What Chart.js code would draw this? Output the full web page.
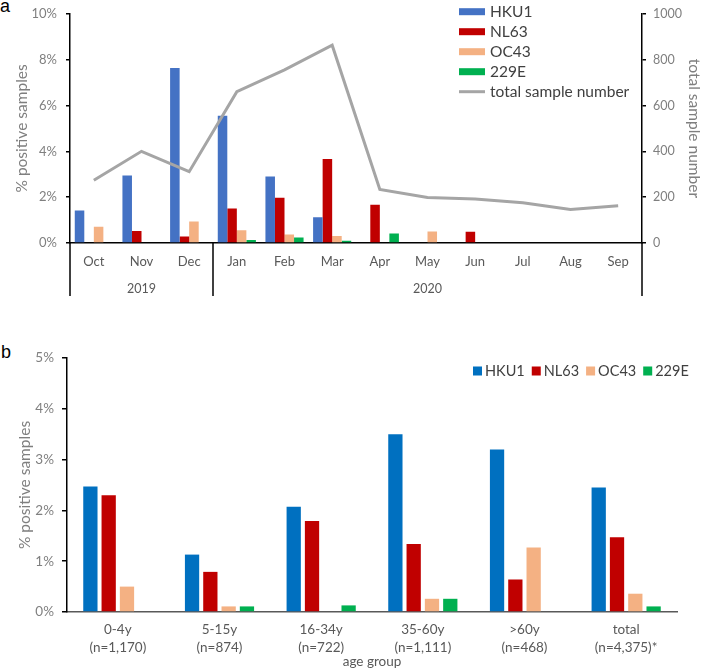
<!DOCTYPE html>
<html>
<head>
<meta charset="utf-8">
<script src="https://cdn.jsdelivr.net/npm/chart.js@4.4.1/dist/chart.umd.min.js"></script>
<style>
  html, body { margin: 0; padding: 0; background: #fff; }
  body { width: 702px; height: 668px; position: relative; overflow: hidden; }
  .panel { position: absolute; left: 0; width: 702px; }
  #panelA { top: -3px; height: 300px; }
  #panelB { top: 310px; height: 358px; }
  .tag { position: absolute; font-family: 'Liberation Sans', Arial, sans-serif; font-size: 18px; color: #000; line-height: 20px; }
</style>
</head>
<body>
<div class="tag" style="left:0px; top:-4px;">a</div>
<div class="tag" style="left:1px; top:342px;">b</div>
<div class="panel" id="panelA"><canvas id="monthChart" width="702" height="300"></canvas></div>
<div class="panel" id="panelB"><canvas id="ageChart" width="702" height="358"></canvas></div>
<script>
// ---- panel a : monthly data ----
const months = ["Oct", "Nov", "Dec", "Jan", "Feb", "Mar", "Apr", "May", "Jun", "Jul", "Aug", "Sep"];
const yearLabels = ["2019", "2020"];
const yearMonthCounts = [3, 9];

const hku1Monthly = [1.42, 2.95, 7.63, 5.55, 2.90, 1.12, 0, 0, 0, 0, 0, 0];
const nl63Monthly = [0, 0.52, 0.28, 1.50, 1.97, 3.67, 1.67, 0, 0.49, 0, 0, 0];
const oc43Monthly = [0.71, 0, 0.94, 0.56, 0.37, 0.31, 0, 0.50, 0, 0, 0, 0];
const e229Monthly = [0, 0, 0, 0.13, 0.24, 0.10, 0.41, 0, 0, 0, 0, 0];
const totalSamples = [274, 400, 311, 660, 755, 863, 234, 199, 192, 176, 146, 163];

// ---- panel b : age groups ----
const ageGroupNames = ["0-4y", "5-15y", "16-34y", "35-60y", ">60y", "total"];
const ageGroupCounts = ["(n=1,170)", "(n=874)", "(n=722)", "(n=1,111)", "(n=468)", "(n=4,375)*"];

const hku1Age = [2.47, 1.13, 2.07, 3.50, 3.20, 2.45];
const nl63Age = [2.30, 0.79, 1.79, 1.34, 0.64, 1.47];
const oc43Age = [0.50, 0.11, 0, 0.26, 1.27, 0.36];
const e229Age = [0, 0.11, 0.13, 0.26, 0, 0.11];

Chart.defaults.font.family = "Lato, 'Open Sans', sans-serif";
Chart.defaults.animation = false;
Chart.defaults.events = [];
Chart.defaults.plugins.legend.display = false;
Chart.defaults.plugins.tooltip.enabled = false;

// legend drawn inside the plot, from the datasets
const insideLegend = {
    id: "insideLegend",
    afterDraw(chart, args, opts) {
        const ctx = chart.ctx;
        ctx.save();
        ctx.font = opts.fontSize + "px " + Chart.defaults.font.family;
        ctx.textBaseline = "middle";
        let x = opts.x, y = opts.y;
        chart.data.datasets.forEach(ds => {
            if (ds.type === "line") {
                ctx.strokeStyle = ds.borderColor;
                ctx.lineWidth = ds.borderWidth;
                ctx.beginPath();
                ctx.moveTo(x, y);
                ctx.lineTo(x + opts.boxW, y);
                ctx.stroke();
            } else {
                ctx.fillStyle = ds.backgroundColor;
                ctx.fillRect(x, y - opts.boxH / 2, opts.boxW, opts.boxH);
            }
            ctx.fillStyle = opts.color;
            ctx.fillText(ds.label, x + opts.boxW + opts.textGap, y);
            if (opts.vertical) {
                y += opts.rowGap;
            } else {
                x += opts.boxW + opts.textGap + ctx.measureText(ds.label).width + opts.itemGap;
            }
        });
        ctx.restore();
    }
};

// second level of the month axis: years and separators
const yearGroups = {
    id: "yearGroups",
    afterDraw(chart) {
        const xs = chart.scales.x;
        const area = chart.chartArea;
        const ctx = chart.ctx;
        const half = (xs.getPixelForValue(1) - xs.getPixelForValue(0)) / 2;
        const edges = [xs.getPixelForValue(0) - half];
        ctx.save();
        ctx.fillStyle = "#595959";
        ctx.font = "12.5px " + Chart.defaults.font.family;
        ctx.textAlign = "center";
        ctx.textBaseline = "middle";
        let start = 0;
        yearLabels.forEach((lab, i) => {
            const end = start + yearMonthCounts[i] - 1;
            const l = xs.getPixelForValue(start) - half;
            const r = xs.getPixelForValue(end) + half;
            ctx.fillText(lab, (l + r) / 2, area.bottom + 46);
            edges.push(r);
            start = end + 1;
        });
        ctx.strokeStyle = "#000";
        ctx.lineWidth = 1.5;
        edges.forEach(x => {
            ctx.beginPath();
            ctx.moveTo(x, area.bottom);
            ctx.lineTo(x, area.bottom + 53);
            ctx.stroke();
        });
        ctx.restore();
    }
};

function drawCharts() {
    new Chart(document.getElementById("monthChart"), {
        type: "bar",
        data: {
            labels: months,
            datasets: [
                { label: "HKU1", data: hku1Monthly, backgroundColor: "#4472C4", order: 1 },
                { label: "NL63", data: nl63Monthly, backgroundColor: "#C00000", order: 1 },
                { label: "OC43", data: oc43Monthly, backgroundColor: "#F4B183", order: 1 },
                { label: "229E", data: e229Monthly, backgroundColor: "#00B050", order: 1 },
                {
                    type: "line", label: "total sample number", data: totalSamples, yAxisID: "y1",
                    borderColor: "#A5A5A5", borderWidth: 3, pointRadius: 0, tension: 0, order: 0
                }
            ]
        },
        options: {
            responsive: false,
            devicePixelRatio: 1,
            layout: { padding: { top: 8, left: 0, right: 0, bottom: 0 } },
            datasets: { bar: { categoryPercentage: 0.8, barPercentage: 1.0 } },
            scales: {
                x: {
                    grid: { display: false, drawTicks: false },
                    border: { color: "#000", width: 1.5 },
                    ticks: { color: "#595959", font: { size: 13 }, padding: 11 },
                    afterFit: s => { s.height = 54; }
                },
                y: {
                    position: "left", min: 0, max: 10,
                    ticks: { stepSize: 2, callback: v => v + "%", color: "#7f7f7f", font: { size: 13 }, padding: 9 },
                    grid: { drawOnChartArea: false, tickLength: 4, color: "#000", lineWidth: 1.5 },
                    border: { color: "#000", width: 1.5 },
                    title: { display: true, text: "% positive samples", color: "#7f7f7f", font: { size: 15.5 }, padding: { top: 13, bottom: 0 } },
                    afterFit: s => { s.width = 70; }
                },
                y1: {
                    position: "right", min: 0, max: 1000,
                    ticks: { stepSize: 200, callback: v => String(v), color: "#7f7f7f", font: { size: 12.5 }, padding: 7 },
                    grid: { drawOnChartArea: false, tickLength: 4, color: "#000", lineWidth: 1.5 },
                    border: { color: "#000", width: 1.5 },
                    title: { display: true, text: "total sample number", color: "#7f7f7f", font: { size: 15.5, lineHeight: 1 }, padding: { top: 0, bottom: 0 } },
                    afterFit: s => { s.width = 60; }
                }
            },
            plugins: {
                insideLegend: { vertical: true, x: 459, y: 14.7, rowGap: 20, boxW: 26, boxH: 7, textGap: 5, fontSize: 15.5, color: "#404040" }
            }
        },
        plugins: [insideLegend, yearGroups]
    });

    new Chart(document.getElementById("ageChart"), {
        type: "bar",
        data: {
            labels: ageGroupNames.map((n, i) => [n, ageGroupCounts[i]]),
            datasets: [
                { label: "HKU1", data: hku1Age, backgroundColor: "#0070C0" },
                { label: "NL63", data: nl63Age, backgroundColor: "#C00000" },
                { label: "OC43", data: oc43Age, backgroundColor: "#F4B183" },
                { label: "229E", data: e229Age, backgroundColor: "#00B050" }
            ]
        },
        options: {
            responsive: false,
            devicePixelRatio: 1,
            layout: { padding: { top: 48, left: 0, right: 25, bottom: 0 } },
            datasets: { bar: { categoryPercentage: 0.72, barPercentage: 0.78 } },
            scales: {
                x: {
                    grid: { display: false, drawTicks: false },
                    border: { color: "#595959", width: 1.5 },
                    ticks: { color: "#595959", font: { size: 13.5, lineHeight: 1.38 }, padding: 8 },
                    title: { display: true, text: "age group", color: "#595959", font: { size: 13.5, lineHeight: 1 }, padding: 0 },
                    afterFit: s => { s.height = 56; }
                },
                y: {
                    min: 0, max: 5,
                    ticks: { stepSize: 1, callback: v => v + "%", color: "#808080", font: { size: 13.5 }, padding: 8 },
                    grid: { drawOnChartArea: false, tickLength: 5, color: "#000", lineWidth: 1.5 },
                    border: { color: "#000", width: 1.5 },
                    title: { display: true, text: "% positive samples", color: "#7f7f7f", font: { size: 15.5 }, padding: { top: 16, bottom: 0 } },
                    afterFit: s => { s.width = 67; }
                }
            },
            plugins: {
                insideLegend: { vertical: false, x: 473, y: 61, boxW: 9, boxH: 9, textGap: 3, itemGap: 7, fontSize: 14.5, color: "#404040" }
            }
        },
        plugins: [insideLegend]
    });
}

Promise.all([
    document.fonts.load("13px Lato"),
    document.fonts.load("15px Lato")
]).then(drawCharts, drawCharts);
</script>
</body>
</html>
